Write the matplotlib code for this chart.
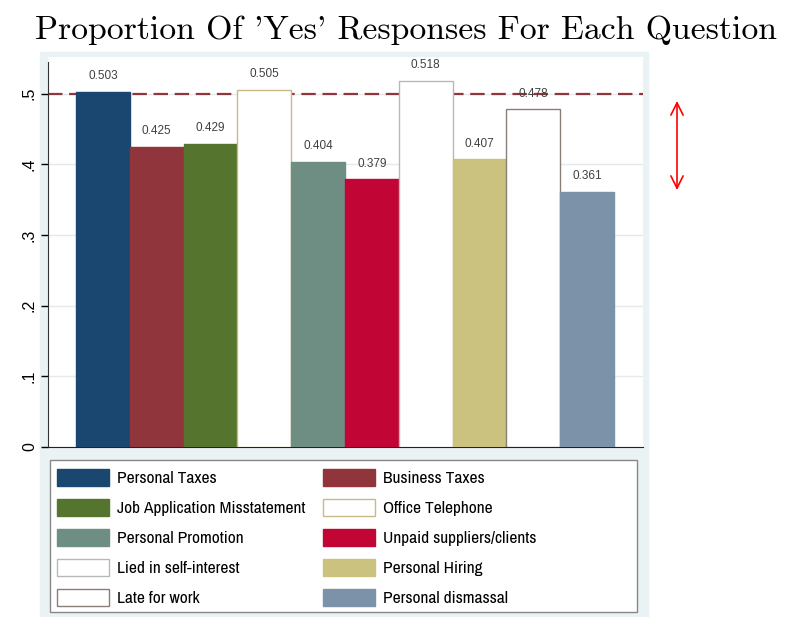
import matplotlib.pyplot as plt
from matplotlib import font_manager
from matplotlib.patches import Rectangle

questions = ["Personal Taxes", "Business Taxes", "Job Application Misstatement",
             "Office Telephone", "Personal Promotion", "Unpaid suppliers/clients",
             "Lied in self-interest", "Personal Hiring", "Late for work",
             "Personal dismassal"]
yes_share = [0.503, 0.425, 0.429, 0.505, 0.404, 0.379, 0.518, 0.407, 0.478, 0.361]
fills = ["#1a476f", "#90353b", "#55752f", "#ffffff", "#6e8e84",
         "#c10534", "#ffffff", "#cac27e", "#ffffff", "#7b92a8"]
edges = ["#1a476f", "#90353b", "#55752f", "#c8b88a", "#6e8e84",
         "#c10534", "#b8b8b8", "#cac27e", "#8a7f78", "#7b92a8"]
yticks = [0, 0.1, 0.2, 0.3, 0.4, 0.5]
ytick_labels = ["0", ".1", ".2", ".3", ".4", ".5"]

# narrow font for the legend if one is installed
narrow = sorted(set(f.name for f in font_manager.fontManager.ttflist
                    if "Narrow" in f.name or "Condensed" in f.name))
leg_font = narrow[0] if narrow else "Liberation Sans"

W, H = 794, 617
fig = plt.figure(figsize=(W / 100, H / 100), dpi=100)

# stata graph region background
fig.add_artist(Rectangle((40 / W, 0), 608 / W, 1 - 52 / H, transform=fig.transFigure,
                         color="#eaf2f3", zorder=-5))

ax = fig.add_axes([48 / W, (H - 447) / H, (643 - 48) / W, (447 - 57) / H])
ax.set_facecolor("white")

x = list(range(len(yes_share)))
ax.axhline(0.5, color="#90353b", lw=1.6, dashes=(6.5, 3), zorder=2)
bars = ax.bar(x, yes_share, width=1.0, color=fills, edgecolor=edges, lw=1, zorder=3)
for xi, v in zip(x, yes_share):
    ax.annotate(f"{v:.3f}", (xi, v), xytext=(0, 7), textcoords="offset points",
                ha="center", va="bottom", fontsize=8.5, color="#404040",
                family="Liberation Sans", zorder=5)

ax.set_xlim(-0.5 - 0.52, 9.5 + 0.54)
ax.set_ylim(0, 0.552)
ax.set_xticks([])
ax.set_yticks(yticks)
ax.set_yticklabels(ytick_labels, rotation=90, va="center", fontsize=11.5,
                   family="Liberation Sans")
ax.tick_params(axis="y", length=5, width=1, pad=3)
ax.grid(axis="y", color="#e4eaec", lw=1, zorder=0)
ax.set_axisbelow(True)
for s in ["top", "right"]:
    ax.spines[s].set_visible(False)
ax.spines["left"].set_bounds(0, 0.545)
ax.spines["left"].set_color("#333333")
ax.spines["bottom"].set_color("#222222")

fig.text(406 / W, 1 - 30 / H, "Proportion Of 'Yes' Responses For Each Question",
         ha="center", va="center", fontsize=24.3, family="cmr10")

# legend frame drawn separately, wider than the entries
fig.add_artist(Rectangle((50 / W, 1 - 612 / H), 587 / W, 152 / H,
                         transform=fig.transFigure, facecolor="white",
                         edgecolor="#888888", lw=1, zorder=1))

# legend is filled row by row in the reference
order = [0, 2, 4, 6, 8, 1, 3, 5, 7, 9]
leg = fig.legend([bars[i] for i in order], [questions[i] for i in order],
                 ncol=2, loc="upper left",
                 bbox_to_anchor=(57 / W, 1 - 469 / H),
                 frameon=False,
                 prop={"family": leg_font, "size": 12.5},
                 handlelength=3.0, handleheight=1.15, labelspacing=0.72,
                 handletextpad=0.45, columnspacing=1.0,
                 borderpad=0, borderaxespad=0)
leg.set_zorder(2)

ax.annotate("", xy=(677 / W, 1 - 101 / H), xytext=(677 / W, 1 - 190 / H),
            xycoords="figure fraction", textcoords="figure fraction",
            arrowprops=dict(arrowstyle="<->", color="red", lw=1.2,
                            mutation_scale=22, shrinkA=0, shrinkB=0))

fig.savefig("out.png", dpi=100)
